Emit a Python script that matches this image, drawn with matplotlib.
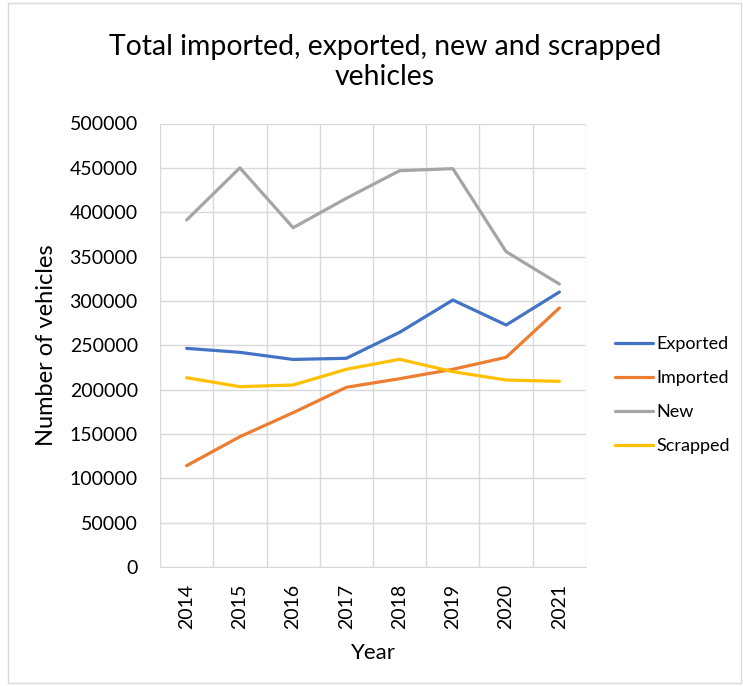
import matplotlib
matplotlib.use("Agg")
import matplotlib.pyplot as plt
from matplotlib.patches import Rectangle

plt.rcParams['font.family'] = ['Lato', 'DejaVu Sans']

years = ['2014', '2015', '2016', '2017', '2018', '2019', '2020', '2021']
exported = [246500, 242000, 234000, 235300, 264600, 301000, 272800, 310000]
imported = [114200, 146900, 174000, 202600, 212300, 222900, 236400, 292000]
new = [391200, 450000, 382500, 415700, 446800, 449100, 355500, 319000]
scrapped = [213400, 203300, 205200, 222900, 234200, 220200, 210800, 209300]

series = [('Exported', exported, '#4472C4'),
          ('Imported', imported, '#ED7D31'),
          ('New', new, '#A5A5A5'),
          ('Scrapped', scrapped, '#FFC000')]

fig = plt.figure(figsize=(7.43, 6.86), dpi=100)
ax = fig.add_axes([160 / 743, 1 - 567 / 686, 426 / 743, 443.5 / 686])

x = list(range(len(years)))
for name, vals, col in series:
    ax.plot(x, vals, color=col, linewidth=2.3, label=name, solid_capstyle='round')

ax.set_xlim(-0.5, len(years) - 0.5)
ax.set_ylim(0, 500000)
ax.set_yticks(range(0, 500001, 50000))
ax.set_yticklabels([str(v) for v in range(0, 500001, 50000)], fontsize=14)
ax.set_xticks(x)
ax.set_xticklabels(years, rotation=90, fontsize=14)
ax.set_xticks([i - 0.5 for i in range(len(years) + 1)], minor=True)
ax.tick_params(axis='both', which='both', length=0)
ax.tick_params(axis='x', pad=12)
ax.tick_params(axis='y', pad=16)
ax.grid(True, axis='y', color='#D9D9D9', linewidth=1)
ax.grid(True, axis='x', which='minor', color='#D9D9D9', linewidth=1)
ax.grid(False, axis='x', which='major')
for s in ax.spines.values():
    s.set_visible(False)
ax.spines['bottom'].set_visible(True)
ax.spines['bottom'].set_color('#D9D9D9')

ax.set_xlabel('Year', fontsize=16, labelpad=10)
ax.set_ylabel('Number of vehicles', fontsize=17, labelpad=9)

fig.text(385 / 743, 1 - 62 / 686, 'Total imported, exported, new and scrapped\nvehicles',
         ha='center', va='center', fontsize=20.4, linespacing=1.2)

ax.legend(loc='center left', bbox_to_anchor=(1.03, 0.388), frameon=False, fontsize=13,
          handlelength=2.1, handletextpad=0.2, labelspacing=1.0)

fig.patches.append(Rectangle((8 / 743, 3 / 686), 733 / 743, 680 / 686, transform=fig.transFigure,
                             fill=False, edgecolor='#D9D9D9', linewidth=1))

fig.savefig('out.png', dpi=100)
